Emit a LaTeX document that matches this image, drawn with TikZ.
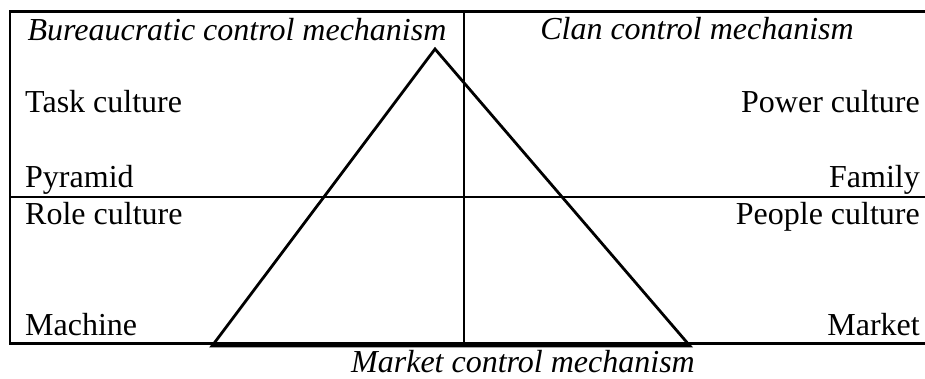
\documentclass[tikz,border=0pt]{standalone}
\usepackage{fontspec}
\setmainfont{Liberation Serif}
\tikzset{
  rule/.style={line width=2.4pt, line cap=rect},
  tri/.style={line width=2.8pt, line join=miter},
  lbl/.style={inner sep=0pt, font=\fontsize{32}{38}\selectfont},
  ttl/.style={lbl, font=\fontsize{32}{38}\selectfont\itshape},
}
\begin{document}
\begin{tikzpicture}[x=1pt,y=-1pt]
\useasboundingbox (0,0) rectangle (925,379);
% frame coordinates
\coordinate (tl) at (10,11.5);
\coordinate (tr) at (925,11.5);
\coordinate (bl) at (10,343.5);
\coordinate (br) at (925,343.5);
\coordinate (ml) at (10,197);
\coordinate (mr) at (925,197);
\coordinate (vt) at (464,11.5);
\coordinate (vb) at (464,343.5);
\draw[rule] (tr) -- (tl) -- (bl) -- (br);
\draw[rule] (ml) -- (mr);
\draw[rule] (vt) -- (vb);
% triangle
\coordinate (apex) at (435,49);
\coordinate (bleft) at (212,346);
\coordinate (bright) at (690,346);
\draw[tri] (apex) -- (bleft) -- (bright) -- cycle;
% titles
\node[ttl, anchor=base] (bur) at (237,41) {Bureaucratic control mechanism};
\node[ttl, anchor=base] (clan) at (697,40) {Clan control mechanism};
\node[ttl, anchor=base] (mkt) at (523,372) {Market control mechanism};
% left labels
\node[lbl, anchor=base west] (task) at (25,113) {Task culture};
\node[lbl, anchor=base west] (pyr) at (25,188) {Pyramid};
\node[lbl, anchor=base west] (role) at (25,225) {Role culture};
\node[lbl, anchor=base west] (mach) at (25,335) {Machine};
% right labels
\node[lbl, anchor=base east] (power) at (920,113) {Power culture};
\node[lbl, anchor=base east] (fam) at (920,188) {Family};
\node[lbl, anchor=base east] (people) at (920,225) {People culture};
\node[lbl, anchor=base east] (market) at (920,335) {Market};
\end{tikzpicture}
\end{document}
